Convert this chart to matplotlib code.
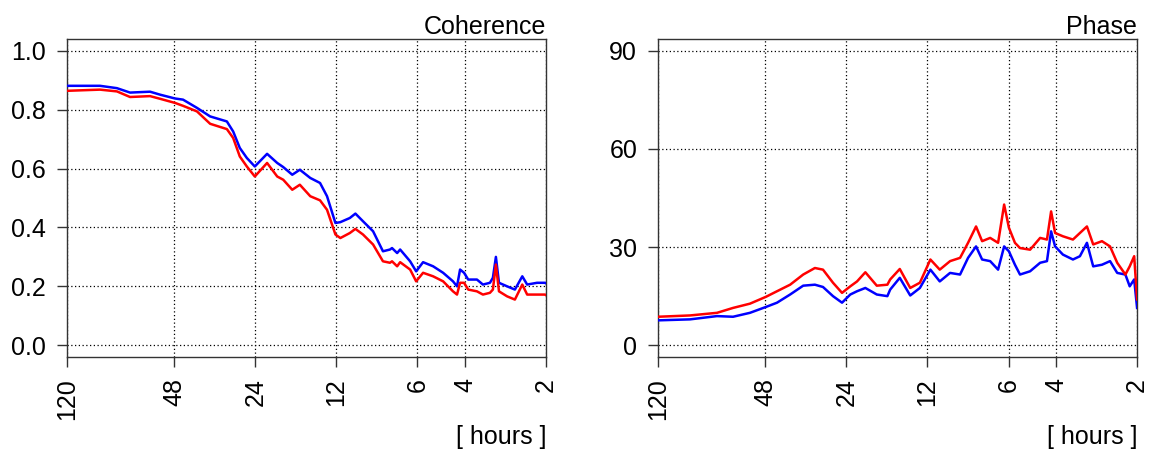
import matplotlib
matplotlib.use("Agg")
import matplotlib.pyplot as plt

plt.rcParams['font.family'] = ['Liberation Sans', 'DejaVu Sans']

# coherence: period in hours, blue / red series
coh_period = [120, 90.5, 78.3, 70.0, 59.0, 54.2, 47.7, 44.5, 39.5, 35.3, 30.6, 29.0,
              27.4, 25.8, 24.1, 21.7, 19.9, 18.9, 17.5, 16.4, 15.0, 13.8, 13.0, 12.1,
              11.6, 10.7, 10.2, 9.56, 8.77, 8.06, 7.59, 7.46, 7.14, 6.96, 6.39, 6.07,
              5.72, 5.25, 4.82, 4.43, 4.28, 4.17, 4.03, 3.89, 3.61, 3.43, 3.23, 3.15,
              3.07, 2.99, 2.79, 2.61, 2.45, 2.35, 2.16, 2.02, 2.0]
coh_blue = [0.881, 0.881, 0.873, 0.858, 0.861, 0.851, 0.838, 0.834, 0.806, 0.777, 0.760, 0.726,
            0.670, 0.636, 0.607, 0.650, 0.619, 0.605, 0.579, 0.596, 0.568, 0.551, 0.506, 0.415,
            0.418, 0.432, 0.447, 0.421, 0.387, 0.319, 0.325, 0.330, 0.313, 0.325, 0.285, 0.251,
            0.282, 0.268, 0.246, 0.217, 0.200, 0.257, 0.246, 0.223, 0.223, 0.206, 0.212, 0.229,
            0.300, 0.212, 0.200, 0.189, 0.234, 0.206, 0.212, 0.212, 0.210]
coh_red = [0.864, 0.868, 0.862, 0.843, 0.846, 0.837, 0.823, 0.813, 0.794, 0.752, 0.734, 0.704,
           0.641, 0.607, 0.573, 0.619, 0.573, 0.562, 0.528, 0.545, 0.506, 0.492, 0.460, 0.376,
           0.364, 0.381, 0.395, 0.376, 0.342, 0.285, 0.280, 0.285, 0.268, 0.282, 0.257, 0.217,
           0.246, 0.234, 0.217, 0.183, 0.172, 0.212, 0.212, 0.189, 0.183, 0.172, 0.178, 0.189,
           0.274, 0.183, 0.166, 0.155, 0.206, 0.172, 0.172, 0.172, 0.170]

# phase (degrees)
ph_period = [120, 91.3, 72.5, 63.2, 54.7, 47.7, 43.4, 38.8, 34.7, 31.4, 29.3, 26.9,
             24.9, 23.2, 21.9, 20.4, 18.5, 16.9, 16.5, 15.2, 13.9, 12.8, 11.7, 10.8,
             9.89, 9.08, 8.48, 7.92, 7.52, 7.02, 6.56, 6.23, 5.98, 5.68, 5.44, 4.99,
             4.58, 4.32, 4.17, 4.03, 3.77, 3.46, 3.26, 3.07, 2.91, 2.70, 2.52, 2.37,
             2.21, 2.13, 2.05, 2.0]
ph_blue = [7.6, 7.9, 8.9, 8.7, 9.9, 11.7, 13.0, 15.5, 18.2, 18.5, 17.8, 15.0,
           13.0, 15.5, 16.5, 17.5, 15.5, 15.0, 17.0, 20.6, 15.2, 17.5, 23.1, 19.5,
           22.1, 21.6, 26.7, 30.2, 26.2, 25.7, 23.1, 30.2, 28.7, 24.6, 21.6, 22.6,
           25.2, 25.7, 34.8, 30.2, 27.7, 26.2, 27.2, 31.3, 24.1, 24.6, 25.7, 22.1,
           21.6, 18.0, 20.1, 11.4]
ph_red = [8.7, 9.1, 9.9, 11.4, 12.7, 14.8, 16.5, 18.5, 21.6, 23.6, 23.1, 19.1,
          16.0, 18.0, 19.5, 22.3, 18.2, 18.5, 20.1, 23.3, 17.5, 19.1, 26.2, 23.1,
          25.7, 26.7, 31.3, 36.3, 31.8, 32.8, 31.3, 43.0, 35.9, 31.3, 29.7, 29.2,
          32.8, 32.3, 40.9, 34.3, 33.3, 32.3, 34.3, 36.3, 30.8, 31.8, 30.2, 25.2,
          21.6, 24.1, 27.2, 14.0]

period_ticks = [120, 48, 24, 12, 6, 4, 2]

fig = plt.figure(figsize=(11.51, 4.55), dpi=100)
ax1 = fig.add_axes([0.0582, 0.2154, 0.4162, 0.6989])
ax2 = fig.add_axes([0.5717, 0.2154, 0.4162, 0.6989])

panels = [
    (ax1, coh_period, coh_blue, coh_red, "Coherence", [0.0, 0.2, 0.4, 0.6, 0.8, 1.0], (-0.04, 1.04), "%.1f"),
    (ax2, ph_period, ph_blue, ph_red, "Phase", [0, 30, 60, 90], (-3.6, 93.6), "%d"),
]

fs = 18
for ax, per, blue, red, title, yt, ylim, fmt in panels:
    ax.set_xscale("log")
    ax.set_xlim(120, 2)
    ax.set_ylim(*ylim)
    for p in period_ticks:
        ax.axvline(p, color="black", linestyle=(0, (1, 2)), linewidth=0.9, zorder=1)
    for v in yt:
        ax.axhline(v, color="black", linestyle=(0, (1, 2)), linewidth=0.9, zorder=1)
    ax.plot(per, blue, color="#0000FF", linewidth=1.8, zorder=3)
    ax.plot(per, red, color="#FF0000", linewidth=1.8, zorder=4)
    ax.set_xticks(period_ticks)
    ax.set_xticklabels([str(p) for p in period_ticks], rotation=90)
    ax.minorticks_off()
    ax.set_yticks(yt)
    ax.set_yticklabels([fmt % v for v in yt])
    ax.tick_params(axis="both", direction="out", length=7, width=1, labelsize=fs, color="#333333")
    ax.tick_params(axis="x", pad=8)
    ax.tick_params(axis="y", pad=8)
    for s in ax.spines.values():
        s.set_linewidth(1)
        s.set_color("#333333")
    ax.set_title(title, loc="right", fontsize=fs, pad=3)
    ax.text(1.0, -0.215, "[ hours ]", transform=ax.transAxes, ha="right", va="top", fontsize=fs)

fig.savefig("out.png", dpi=100)
